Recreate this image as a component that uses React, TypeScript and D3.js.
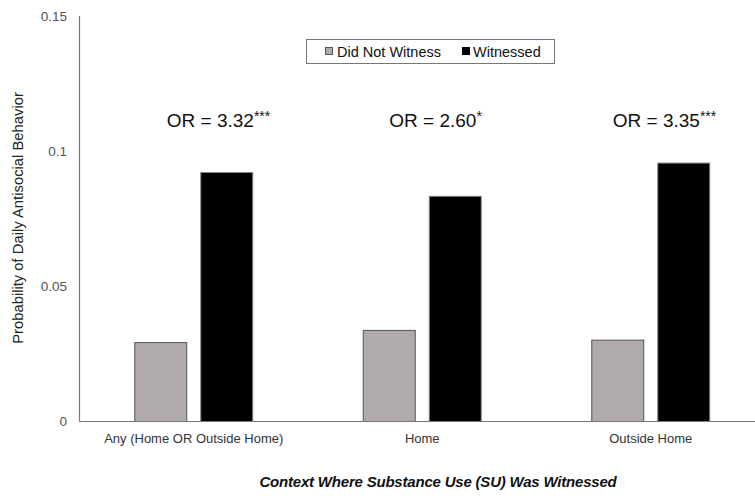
import React from "react";
import * as d3 from "d3";

const categories = ["Any (Home OR Outside Home)", "Home", "Outside Home"];
const seriesNames = ["Did Not Witness", "Witnessed"];
const didNotWitness = [0.0292, 0.0337, 0.0301];
const witnessed = [0.0921, 0.0833, 0.0956];
const orLabels = ["OR = 3.32", "OR = 2.60", "OR = 3.35"];
const orStars = ["***", "*", "***"];
const yTicks = [0, 0.05, 0.1, 0.15];

const W = 755;
const H = 498;
const left = 79.5;
const right = 765;
const top = 16;
const bottom = 421.5;

export default function App() {
  const x = d3.scaleBand<string>().domain(categories).range([left, right]).paddingInner(0).paddingOuter(0);
  const y = d3.scaleLinear().domain([0, 0.15]).range([bottom, top]);
  const barW = 52;
  const gap = 14;
  const colors = ["#b0aaaa", "#000000"];
  const series = [didNotWitness, witnessed];
  const orOffset = [-27, -33, -38];

  return (
    <svg width={W} height={H} style={{ position: "absolute", left: 0, top: 0, background: "#fff" }}>
      <line x1={left} x2={left} y1={top} y2={bottom} stroke="#777" strokeWidth={1.2} />
      {yTicks.map((t) => (
        <text key={t} x={67} y={y(t)} dy="0.35em" textAnchor="end" fontFamily="Liberation Sans, Arial, sans-serif" fontSize={13.5} fill="#555">
          {t === 0 ? "0" : String(t)}
        </text>
      ))}
      {categories.map((c, i) => {
        const cx = (x(c) as number) + x.bandwidth() / 2;
        return series.map((s, j) => {
          const bx = j === 0 ? cx - gap / 2 - barW : cx + gap / 2;
          return (
            <rect key={c + j} x={bx} y={y(s[i])} width={barW} height={bottom - y(s[i])} fill={colors[j]} stroke={j === 0 ? "#555" : "#888"} strokeWidth={1} />
          );
        });
      })}
      <line x1={left} x2={W} y1={bottom} y2={bottom} stroke="#777" strokeWidth={1.2} />
      {categories.map((c) => (
        <text key={c} x={(x(c) as number) + x.bandwidth() / 2} y={443} textAnchor="middle" fontFamily="Liberation Sans Narrow, Arial Narrow, sans-serif" fontStretch="condensed" fontSize={13} fill="#333">
          {c}
        </text>
      ))}
      {categories.map((c, i) => (
        <text key={"or" + c} x={(x(c) as number) + x.bandwidth() / 2 + orOffset[i]} y={127} fontFamily="Liberation Sans, Arial, sans-serif" fontSize={19} fill="#111">
          {orLabels[i]}
          <tspan fontSize={14} dy={-6}>{orStars[i]}</tspan>
        </text>
      ))}
      <rect x={306.5} y={39.5} width={248} height={24} fill="#fff" stroke="#777" strokeWidth={1} />
      <rect x={325.5} y={47.5} width={7} height={7} fill={colors[0]} stroke="#555" strokeWidth={1} />
      <text x={337} y={56.5} fontFamily="Liberation Sans, Arial, sans-serif" fontSize={14.5} fill="#111">{seriesNames[0]}</text>
      <rect x={462.5} y={47.5} width={7} height={7} fill={colors[1]} stroke="#000" strokeWidth={1} />
      <text x={473} y={56.5} fontFamily="Liberation Sans, Arial, sans-serif" fontSize={14.5} fill="#111">{seriesNames[1]}</text>
      <text transform={`translate(23,${218}) rotate(-90)`} textAnchor="middle" fontFamily="Liberation Sans, Arial, sans-serif" fontSize={14.8} fill="#222">
        Probability of Daily Antisocial Behavior
      </text>
      <text x={438} y={487} textAnchor="middle" fontFamily="Liberation Sans Narrow, Arial Narrow, sans-serif" fontStretch="condensed" fontWeight="bold" fontStyle="italic" fontSize={15} letterSpacing={-0.2} fill="#111">
        Context Where Substance Use (SU) Was Witnessed
      </text>
    </svg>
  );
}
